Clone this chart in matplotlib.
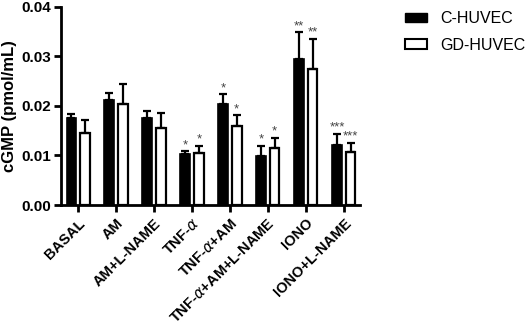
import numpy as np
import matplotlib.pyplot as plt
from matplotlib.patches import Patch

plt.rcParams['font.family'] = ['Liberation Sans', 'DejaVu Sans']

groups = ['BASAL', 'AM', 'AM+L-NAME', r'TNF-$\alpha$', r'TNF-$\alpha$+AM',
          r'TNF-$\alpha$+AM+L-NAME', 'IONO', 'IONO+L-NAME']
c_huvec = [0.0175, 0.0211, 0.0175, 0.0103, 0.0203, 0.0099, 0.0295, 0.0122]
c_err = [0.0008, 0.0016, 0.0015, 0.0006, 0.0021, 0.0021, 0.0054, 0.0022]
gd_huvec = [0.0145, 0.0203, 0.0156, 0.0105, 0.0159, 0.0115, 0.0274, 0.0107]
gd_err = [0.0026, 0.0041, 0.0029, 0.0015, 0.0022, 0.0021, 0.0062, 0.0019]
c_stars = ['', '', '', '*', '*', '*', '**', '***']
gd_stars = ['', '', '', '*', '*', '*', '**', '***']

fig = plt.figure(figsize=(5.26, 3.27), dpi=100)
ax = fig.add_axes([0.116, 0.373, 0.568, 0.606])

x = np.arange(len(groups))
w = 0.25
off = 0.18

ax.bar(x - off, c_huvec, w, color='black', edgecolor='black', linewidth=1.2, zorder=2)
ax.bar(x + off, gd_huvec, w, color='white', edgecolor='black', linewidth=1.6, zorder=2)
ax.errorbar(x - off, c_huvec, yerr=[np.zeros(len(x)), c_err], fmt='none',
            ecolor='black', elinewidth=1.6, capsize=3, capthick=1.6, zorder=3)
ax.errorbar(x + off, gd_huvec, yerr=[np.zeros(len(x)), gd_err], fmt='none',
            ecolor='black', elinewidth=1.6, capsize=3, capthick=1.6, zorder=3)

for xi, v, e, s in zip(x - off, c_huvec, c_err, c_stars):
    if s:
        ax.annotate(s, (xi, v + e), xytext=(0, 0), textcoords='offset points',
                    ha='center', va='bottom', fontsize=9.5, color='#444444')
for xi, v, e, s in zip(x + off, gd_huvec, gd_err, gd_stars):
    if s:
        ax.annotate(s, (xi, v + e), xytext=(0, 0), textcoords='offset points',
                    ha='center', va='bottom', fontsize=9.5, color='#444444')

ax.set_ylim(0, 0.04)
ax.set_xlim(-0.45, 7.42)
ax.set_yticks([0, 0.01, 0.02, 0.03, 0.04])
ax.set_yticklabels(['0.00', '0.01', '0.02', '0.03', '0.04'], fontweight='bold', fontsize=11)
ax.set_xticks(x)
ax.set_xticklabels(groups, rotation=45, ha='right', rotation_mode='anchor',
                   fontweight='bold', fontsize=10.5)
ax.set_ylabel('cGMP (pmol/mL)', fontweight='bold', fontsize=12, labelpad=3)

for side in ['top', 'right']:
    ax.spines[side].set_visible(False)
for side in ['left', 'bottom']:
    ax.spines[side].set_linewidth(2)
ax.tick_params(axis='both', width=2, length=5, direction='out', pad=2)
ax.tick_params(axis='x', pad=3)

handles = [Patch(facecolor='black', edgecolor='black', label='C-HUVEC'),
           Patch(facecolor='white', edgecolor='black', linewidth=1.5, label='GD-HUVEC')]
fig.legend(handles=handles, loc='upper left', bbox_to_anchor=(0.770, 0.965),
           frameon=False, fontsize=11.5, handlelength=1.4, handleheight=0.5,
           handletextpad=0.8, labelspacing=0.7, borderpad=0, borderaxespad=0)

fig.savefig('out.png', dpi=100)
